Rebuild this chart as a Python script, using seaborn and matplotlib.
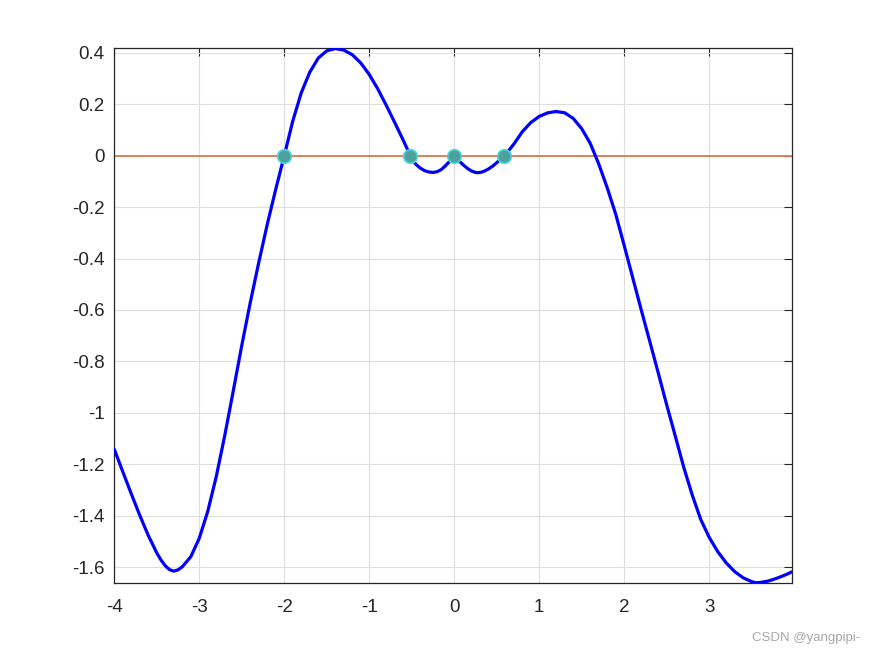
import numpy as np
import pandas as pd
import matplotlib
matplotlib.use("Agg")
import matplotlib.pyplot as plt
import seaborn as sns

# ---- data ----
x_vals = [-4.0, -3.9, -3.8, -3.7, -3.6, -3.5, -3.45, -3.4, -3.35, -3.3, -3.25, -3.2, -3.1, -3.0,
          -2.9, -2.8, -2.7, -2.6, -2.5, -2.4, -2.3, -2.2, -2.1, -2.0,
          -1.9, -1.8, -1.7, -1.6, -1.5, -1.4, -1.3, -1.2, -1.1, -1.0,
          -0.9, -0.8, -0.7, -0.6, -0.55, -0.52, -0.48, -0.45, -0.4, -0.35, -0.3, -0.25,
          -0.2, -0.15, -0.1, -0.05, 0.0,
          0.05, 0.1, 0.15, 0.2, 0.25, 0.28, 0.32, 0.36, 0.4, 0.45, 0.5, 0.55, 0.59, 0.65,
          0.7, 0.8, 0.9, 1.0, 1.1, 1.2, 1.3, 1.4, 1.5, 1.6, 1.7, 1.8, 1.9, 2.0,
          2.1, 2.2, 2.3, 2.4, 2.5, 2.6, 2.7, 2.8, 2.9, 3.0,
          3.1, 3.2, 3.3, 3.4, 3.5, 3.55, 3.6, 3.7, 3.8, 3.9, 3.97]
y_vals = [-1.142, -1.229, -1.315, -1.399, -1.477, -1.545, -1.573, -1.595, -1.610, -1.616, -1.611, -1.599, -1.560, -1.488,
          -1.383, -1.248, -1.088, -0.915, -0.738, -0.571, -0.415, -0.267, -0.130, 0.000,
          0.135, 0.245, 0.325, 0.380, 0.408, 0.417, 0.411, 0.393, 0.361, 0.316,
          0.260, 0.196, 0.129, 0.060, 0.024, 0.000, -0.022, -0.034, -0.048, -0.058, -0.063, -0.065,
          -0.062, -0.053, -0.038, -0.020, 0.000,
          -0.018, -0.034, -0.048, -0.059, -0.065, -0.066, -0.064, -0.059, -0.052, -0.041, -0.027, -0.012, 0.000, 0.024,
          0.045, 0.093, 0.129, 0.153, 0.167, 0.172, 0.167, 0.145, 0.105, 0.048, -0.032, -0.125, -0.228, -0.350,
          -0.475, -0.600, -0.722, -0.845, -0.970, -1.090, -1.212, -1.320, -1.415, -1.485,
          -1.540, -1.584, -1.618, -1.642, -1.657, -1.661, -1.660, -1.654, -1.643, -1.630, -1.619]

root_x = [-2.0, -0.52, 0.0, 0.59]
root_y = [0.0, 0.0, 0.0, 0.0]

zero_x = [-4.0, 3.97]
zero_y = [0.0, 0.0]

x_ticks = [-4, -3, -2, -1, 0, 1, 2, 3]
y_ticks = [-1.6, -1.4, -1.2, -1.0, -0.8, -0.6, -0.4, -0.2, 0.0, 0.2, 0.4]
y_tick_labels = ["-1.6", "-1.4", "-1.2", "-1", "-0.8", "-0.6", "-0.4", "-0.2", "0", "0.2", "0.4"]
x_tick_labels = ["-4", "-3", "-2", "-1", "0", "1", "2", "3"]

# ---- plotting ----
sns.set_theme(style="white")
plt.rcParams["font.family"] = ["Liberation Sans", "DejaVu Sans"]

fig = plt.figure(figsize=(8.75, 6.56), dpi=100)
ax = fig.add_axes([0.1306, 0.1117, 0.7742, 0.8147])

curve = pd.DataFrame({"x": x_vals, "y": y_vals})
zero = pd.DataFrame({"x": zero_x, "y": zero_y})
roots = pd.DataFrame({"x": root_x, "y": root_y})

sns.lineplot(data=curve, x="x", y="y", ax=ax, color="#0000ff", linewidth=2.3,
             sort=False, estimator=None, zorder=3)
sns.lineplot(data=zero, x="x", y="y", ax=ax, color="#df7a55", linewidth=1.3,
             estimator=None, zorder=2)
sns.scatterplot(data=roots, x="x", y="y", ax=ax, s=95, color="#4f9f9b",
                edgecolor="#45d6dc", linewidth=1.2, zorder=4)

ax.set_xlim(-4.0, 3.97)
ax.set_ylim(-1.661, 0.418)
ax.set_xticks(x_ticks)
ax.set_xticklabels(x_tick_labels)
ax.set_yticks(y_ticks)
ax.set_yticklabels(y_tick_labels)
ax.set_xlabel("")
ax.set_ylabel("")

ax.grid(True, color="#dedede", linewidth=0.8)
ax.set_axisbelow(True)
for sp in ax.spines.values():
    sp.set_visible(True)
    sp.set_color("#262626")
    sp.set_linewidth(0.9)
ax.tick_params(direction="in", top=True, right=True, length=6, width=0.8,
               colors="#262626", labelsize=13.5)
ax.tick_params(axis="y", pad=7)
ax.tick_params(axis="x", pad=12)

fig.text(0.983, 0.027, "CSDN @yangpipi-", ha="right", va="center",
         fontsize=9.5, color="#a8a8a8")

fig.savefig("out.png", dpi=100, facecolor="white")
